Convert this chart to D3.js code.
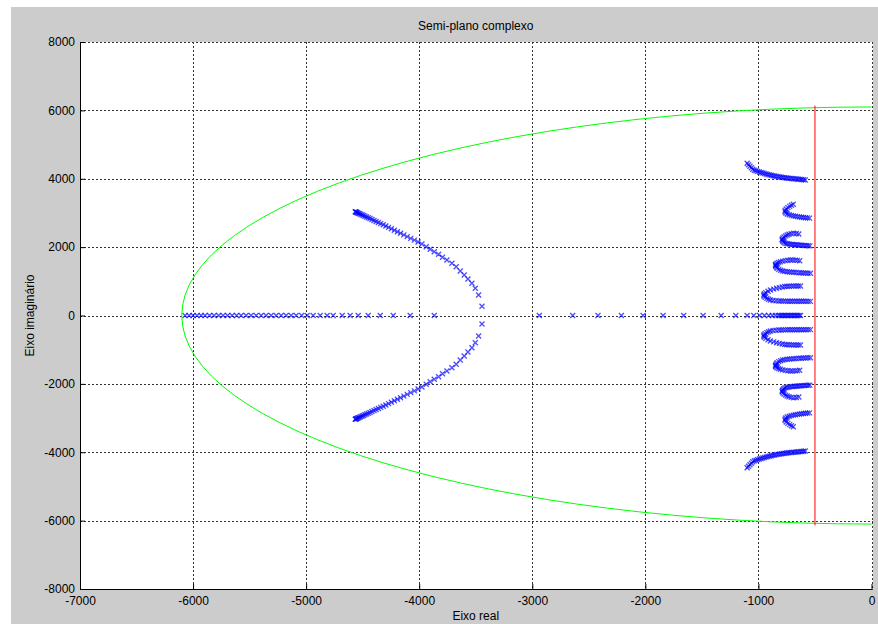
<!DOCTYPE html>
<html><head><meta charset="utf-8">
<script src="https://cdn.jsdelivr.net/npm/d3@7"></script>
<style>
html,body{margin:0;padding:0;background:#fff;}
svg{display:block;}
</style></head><body>
<svg id="chart" width="878" height="624"></svg>
<script>
// ---- text & ticks ----
const titleText = "Semi-plano complexo";
const xLabelText = "Eixo real";
const yLabelText = "Eixo imaginário";
const xTicks = [-7000,-6000,-5000,-4000,-3000,-2000,-1000,0];
const yTicks = [-8000,-6000,-4000,-2000,0,2000,4000,6000,8000];

// ---- boundary (green semicircle) and limit line (red) ----
const boundaryRadius = 6100;
const limitRe = -500;
const limitIm = [-6140, 6140];

// ---- poles on the real axis ----
const realLeftRe = [-6071,-6035,-6000,-5965,-5929,-5894,-5854,-5814,-5774,-5735,-5695,-5655,-5615,-5575,-5531,-5487,-5442,-5398,-5354,-5310,-5265,-5221,-5177,-5133,-5088,-5040,-4991,-4938,-4876,-4814,-4761,-4681,-4611,-4540,-4451,-4345,-4230,-4080,-3867];
const realRightRe = [-2938,-2643,-2419,-2212,-2020,-1843,-1661,-1489,-1330,-1200,-1100,-1041,-990,-947,-909,-878,-850,-826,-810,-797,-784,-771,-758,-745,-732,-719,-706,-693,-680,-667,-654,-641,-628];

// ---- parabola-like branches ----
const branchRe = [-3445,-3475,-3504,-3534,-3569,-3602,-3637,-3673,-3711,-3755,-3794,-3829,-3867,-3903,-3938,-3976,-4010,-4043,-4075,-4106,-4136,-4165,-4193,-4220,-4246,-4271,-4295,-4318,-4340,-4361,-4381,-4400,-4418,-4435,-4451,-4466,-4480,-4493,-4505,-4516,-4526,-4535,-4543,-4550,-4556,-4561,-4566];
const branchUpIm = [272,600,796,942,1068,1185,1302,1428,1527,1624,1703,1790,1866,1936,2012,2091,2149,2204,2257,2308,2358,2406,2452,2496,2538,2578,2616,2653,2688,2721,2752,2781,2809,2835,2860,2883,2904,2924,2942,2959,2974,2988,3000,3011,3020,3028,3036];
const branchLowIm = [-250,-600,-796,-942,-1068,-1185,-1302,-1428,-1527,-1624,-1703,-1790,-1866,-1936,-2012,-2091,-2149,-2204,-2257,-2308,-2358,-2406,-2452,-2496,-2538,-2578,-2616,-2653,-2688,-2721,-2752,-2781,-2809,-2835,-2860,-2883,-2904,-2924,-2942,-2959,-2974,-2988,-3000,-3011,-3020,-3028,-3036];

// ---- arcs near the imaginary axis ----
const arc1Re = [-1100,-1088,-1075,-1062,-1050,-1036,-1021,-1006,-991,-976,-961,-946,-931,-916,-901,-886,-871,-856,-841,-826,-811,-796,-781,-766,-751,-736,-721,-706,-691,-676,-661,-646,-631,-616,-601,-586];
const arc1UpIm = [4452,4410,4365,4320,4280,4250,4232,4215,4199,4184,4169,4154,4139,4125,4113,4101,4090,4080,4070,4061,4052,4043,4035,4028,4022,4016,4011,4006,4001,3996,3991,3986,3981,3976,3970,3965];
const arc1LowIm = [-4452,-4410,-4365,-4320,-4280,-4250,-4232,-4215,-4199,-4184,-4169,-4154,-4139,-4125,-4113,-4101,-4090,-4080,-4070,-4061,-4052,-4043,-4035,-4028,-4022,-4016,-4011,-4006,-4001,-3996,-3991,-3986,-3981,-3976,-3970,-3965];

const arc2Re = [-692,-708,-724,-740,-754,-763,-765,-758,-745,-728,-710,-692,-674,-656,-638,-620,-602,-584,-566,-548];
const arc2UpIm = [3255,3225,3192,3155,3115,3075,3035,2998,2968,2945,2928,2915,2903,2893,2884,2876,2868,2861,2855,2849];
const arc2LowIm = [-3255,-3225,-3192,-3155,-3115,-3075,-3035,-2998,-2968,-2945,-2928,-2915,-2903,-2893,-2884,-2876,-2868,-2861,-2855,-2849];

const arc3Re = [-643,-665,-688,-710,-730,-746,-760,-773,-783,-790,-790,-785,-778,-768,-755,-740,-725,-710,-695,-680,-665,-650,-635,-620,-605,-590,-575,-560,-545];
const arc3UpIm = [2384,2400,2404,2395,2375,2355,2330,2300,2268,2235,2209,2180,2150,2125,2108,2097,2088,2081,2076,2071,2067,2063,2059,2056,2052,2048,2044,2040,2036];
const arc3LowIm = [-2384,-2400,-2404,-2395,-2375,-2355,-2330,-2300,-2268,-2235,-2209,-2180,-2150,-2125,-2108,-2097,-2088,-2081,-2076,-2071,-2067,-2063,-2059,-2056,-2052,-2048,-2044,-2040,-2036];

const arc4Re = [-635,-655,-675,-697,-717,-740,-762,-785,-805,-822,-836,-846,-850,-848,-842,-835,-820,-803,-785,-766,-746,-726,-706,-686,-666,-643,-623,-603,-583,-562,-540];
const arc4UpIm = [1603,1612,1620,1624,1623,1616,1604,1590,1574,1552,1527,1500,1477,1450,1420,1381,1350,1322,1302,1290,1281,1274,1268,1263,1258,1252,1248,1245,1241,1238,1235];
const arc4LowIm = [-1603,-1612,-1620,-1624,-1623,-1616,-1604,-1590,-1574,-1552,-1527,-1500,-1477,-1450,-1420,-1381,-1350,-1322,-1302,-1290,-1281,-1274,-1268,-1263,-1258,-1252,-1248,-1245,-1241,-1238,-1235];

const arc5Re = [-628,-648,-668,-688,-708,-728,-748,-768,-790,-815,-840,-865,-894,-915,-935,-948,-953,-950,-940,-925,-910,-894,-870,-845,-820,-800,-780,-760,-740,-720,-700,-680,-660,-640,-620,-600,-580,-560,-540];
const arc5UpIm = [863,863,862,861,859,857,854,847,835,815,795,772,746,710,670,635,600,565,530,500,475,454,440,432,426,423,421,420,419,418,418,417,417,416,416,415,415,414,414];
const arc5LowIm = [-863,-863,-862,-861,-859,-857,-854,-847,-835,-815,-795,-772,-746,-710,-670,-635,-600,-565,-530,-500,-475,-454,-440,-432,-426,-423,-421,-420,-419,-418,-418,-417,-417,-416,-416,-415,-415,-414,-414];

// ---- drawing ----
const W = 878, H = 624;
const plot = {left: 80, right: 871.5, top: 42, bottom: 589};
const FONT = "'Liberation Sans', Arial, sans-serif";
const svg = d3.select("#chart");

svg.append("rect").attr("x", 11).attr("y", 7).attr("width", W - 11).attr("height", H - 7).attr("fill", "#cccccc");
svg.append("rect").attr("x", plot.left).attr("y", plot.top).attr("width", 873 - plot.left).attr("height", plot.bottom - plot.top).attr("fill", "#ffffff");

const x = d3.scaleLinear().domain([-7000, 0]).range([plot.left, plot.right]);
const y = d3.scaleLinear().domain([-8000, 8000]).range([plot.bottom, plot.top]);

// grid
const grid = svg.append("g").attr("stroke", "#333").attr("stroke-width", 1).attr("stroke-dasharray", "2,2").attr("shape-rendering", "crispEdges");
grid.selectAll("line.v").data(xTicks).join("line").attr("class", "v")
  .attr("x1", d => Math.round(x(d)) + 0.5).attr("x2", d => Math.round(x(d)) + 0.5)
  .attr("y1", plot.top).attr("y2", plot.bottom);
grid.selectAll("line.h").data(yTicks).join("line").attr("class", "h")
  .attr("y1", d => Math.round(y(d)) + 0.5).attr("y2", d => Math.round(y(d)) + 0.5)
  .attr("x1", plot.left).attr("x2", 873);

// markers
const markerPath = "M-2.5,-2.5L2.5,2.5M-2.5,2.5L2.5,-2.5";
const mg = svg.append("g").attr("fill", "none").attr("stroke", "#0000ff").attr("stroke-width", 1.3).attr("stroke-opacity", 0.7);
function drawSeries(re, im) {
  mg.append("g").selectAll("path").data(d3.zip(re, im)).join("path")
    .attr("d", markerPath)
    .attr("transform", d => `translate(${x(d[0])},${y(d[1])})`);
}
drawSeries(realLeftRe, realLeftRe.map(() => 0));
drawSeries(realRightRe, realRightRe.map(() => 0));
drawSeries(branchRe, branchUpIm);
drawSeries(branchRe, branchLowIm);
drawSeries(arc1Re, arc1UpIm); drawSeries(arc1Re, arc1LowIm);
drawSeries(arc2Re, arc2UpIm); drawSeries(arc2Re, arc2LowIm);
drawSeries(arc3Re, arc3UpIm); drawSeries(arc3Re, arc3LowIm);
drawSeries(arc4Re, arc4UpIm); drawSeries(arc4Re, arc4LowIm);
drawSeries(arc5Re, arc5UpIm); drawSeries(arc5Re, arc5LowIm);

// green boundary
const rx = x(0) - x(-boundaryRadius), ry = y(0) - y(boundaryRadius);
svg.append("path")
  .attr("d", `M${x(0)},${y(boundaryRadius)} A${rx},${ry} 0 0 0 ${x(0)},${y(-boundaryRadius)}`)
  .attr("fill", "none").attr("stroke", "#00ff00").attr("stroke-width", 1);

// red limit line
svg.append("path")
  .attr("d", `M${x(limitRe)},${y(limitIm[1])}V${y(limitIm[0])}`)
  .attr("fill", "none").attr("stroke", "rgb(255,0,0)").attr("stroke-width", 1);

// axes
const xAxis = d3.axisBottom(x).tickValues(xTicks).tickSizeInner(-5).tickSizeOuter(0).tickPadding(7.5).tickFormat(d => String(d));
const yAxis = d3.axisLeft(y).tickValues(yTicks).tickSizeInner(-5).tickSizeOuter(0).tickPadding(5).tickFormat(d => String(d));
const gx = svg.append("g").attr("transform", `translate(0,${plot.bottom})`).call(xAxis);
const gy = svg.append("g").attr("transform", `translate(${plot.left},0)`).call(yAxis);
[gx, gy].forEach(g => {
  g.attr("font-family", FONT).attr("font-size", 12);
  g.selectAll("path.domain").attr("stroke", "#000");
  g.selectAll(".tick line").attr("stroke", "#000");
  g.selectAll(".tick text").attr("fill", "#000");
});

// title & labels
svg.append("text").attr("x", (plot.left + plot.right) / 2).attr("y", 30)
  .attr("text-anchor", "middle").attr("font-family", FONT).attr("font-size", 12).attr("fill", "#000").text(titleText);
svg.append("text").attr("x", (plot.left + plot.right) / 2).attr("y", 620)
  .attr("text-anchor", "middle").attr("font-family", FONT).attr("font-size", 12).attr("fill", "#000").text(xLabelText);
svg.append("text").attr("transform", `translate(34,${(plot.top + plot.bottom) / 2}) rotate(-90)`)
  .attr("text-anchor", "middle").attr("font-family", FONT).attr("font-size", 12).attr("fill", "#000").text(yLabelText);
</script>
</body></html>
